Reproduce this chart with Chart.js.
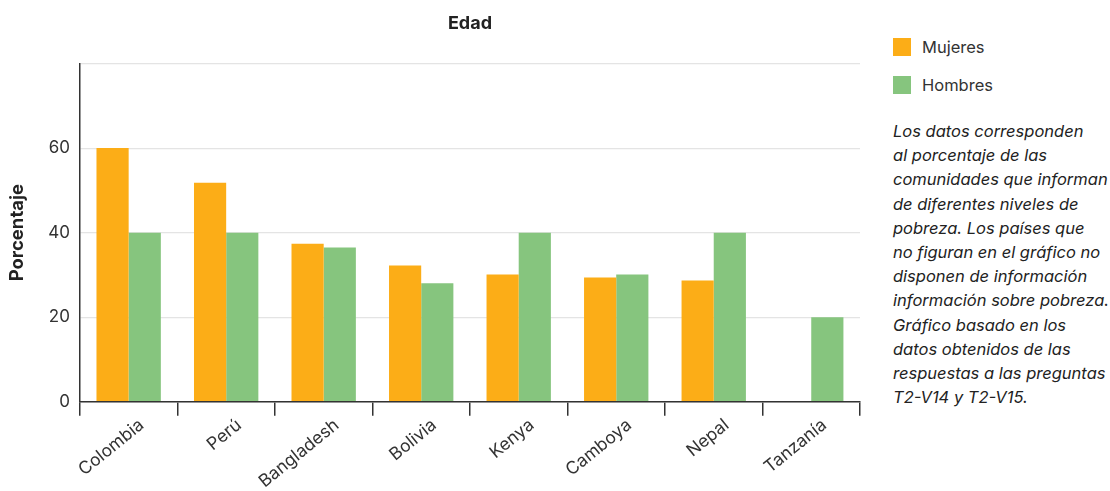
<!DOCTYPE html>
<html>
<head>
<meta charset="utf-8">
<script src="https://cdn.jsdelivr.net/npm/chart.js@4.4.1/dist/chart.umd.min.js"></script>
<style>
  html, body { margin: 0; padding: 0; background: #fff; }
  body { width: 1110px; height: 491px; position: relative; overflow: hidden; font-family: 'Inter', 'Lato', sans-serif; color: #222; }
  #wrap { position: absolute; left: 0; top: 0; width: 862px; height: 491px; }
  #side { position: absolute; left: 893px; top: 37px; width: 240px; }
  .item { display: flex; align-items: center; height: 19px; margin-bottom: 19px; font-size: 16.5px; color: #333; }
  .item span.box { width: 18px; height: 18px; margin-right: 11px; display: inline-block; }
  #note { margin-top: 25px; font-style: italic; font-size: 16.5px; line-height: 24.2px; color: #222; white-space: nowrap; }
</style>
</head>
<body>
<div id="wrap"><canvas id="chart"></canvas></div>
<div id="side">
  <div id="legend"></div>
  <div id="note">Los datos corresponden<br>al porcentaje de las<br>comunidades que informan<br>de diferentes niveles de<br>pobreza. Los países que<br>no figuran en el gráfico no<br>disponen de información<br>información sobre pobreza.<br>Gráfico basado en los<br>datos obtenidos de las<br>respuestas a las preguntas<br>T2-V14 y T2-V15.</div>
</div>
<script>
const paises = ['Colombia', 'Perú', 'Bangladesh', 'Bolivia', 'Kenya', 'Camboya', 'Nepal', 'Tanzanía'];
const mujeres = [60, 51.8, 37.4, 32.2, 30.1, 29.4, 28.7, null];
const hombres = [40, 40, 36.5, 28, 40, 30.1, 40, 20];
const yTicks = [0, 20, 40, 60];

const naranja = '#fcad17';
const verde = '#86c57e';
const fuente = "'Inter', 'Lato', sans-serif";

const ctx = document.getElementById('chart').getContext('2d');
const chart = new Chart(ctx, {
  type: 'bar',
  data: {
    labels: paises,
    datasets: [
      { label: 'Mujeres', data: mujeres, backgroundColor: naranja },
      { label: 'Hombres', data: hombres, backgroundColor: verde }
    ]
  },
  options: {
    responsive: true,
    maintainAspectRatio: false,
    animation: false,
    layout: { padding: { top: 8, right: 2, left: 6, bottom: 0 } },
    datasets: { bar: { categoryPercentage: 0.66, barPercentage: 1 } },
    plugins: {
      legend: { display: false },
      tooltip: { enabled: false },
      title: {
        display: true,
        fullSize: false,
        text: 'Edad',
        color: '#222',
        font: { family: fuente, size: 18, weight: 'bold' },
        padding: { top: 5, bottom: 29 }
      }
    },
    scales: {
      x: {
        border: { color: '#333', width: 1.5 },
        grid: { offset: true, drawOnChartArea: false, tickLength: 14, color: '#333', lineWidth: 1.5 },
        ticks: {
          color: '#333',
          minRotation: 39,
          maxRotation: 39,
          padding: -1,
          labelOffset: 13,
          font: { family: fuente, size: 17.5 }
        }
      },
      y: {
        min: 0,
        max: 80,
        afterBuildTicks: axis => { axis.ticks = [...yTicks, 80].map(v => ({ value: v })); },
        border: { color: '#333', width: 1.5 },
        grid: { drawTicks: false, color: '#e4e4e4', lineWidth: 1.2 },
        ticks: {
          color: '#333',
          padding: 10,
          font: { family: fuente, size: 17 },
          callback: v => (yTicks.includes(v) ? v : '')
        },
        title: {
          display: true,
          text: 'Porcentaje',
          color: '#222',
          font: { family: fuente, size: 18.5, weight: 'bold' },
          padding: { top: 0, bottom: 10 }
        }
      }
    }
  }
});

// leyenda lateral a partir de los datasets
const leyenda = document.getElementById('legend');
chart.data.datasets.forEach(ds => {
  const fila = document.createElement('div');
  fila.className = 'item';
  fila.innerHTML = '<span class="box" style="background:' + ds.backgroundColor + '"></span>' + ds.label;
  leyenda.appendChild(fila);
});
</script>
</body>
</html>
